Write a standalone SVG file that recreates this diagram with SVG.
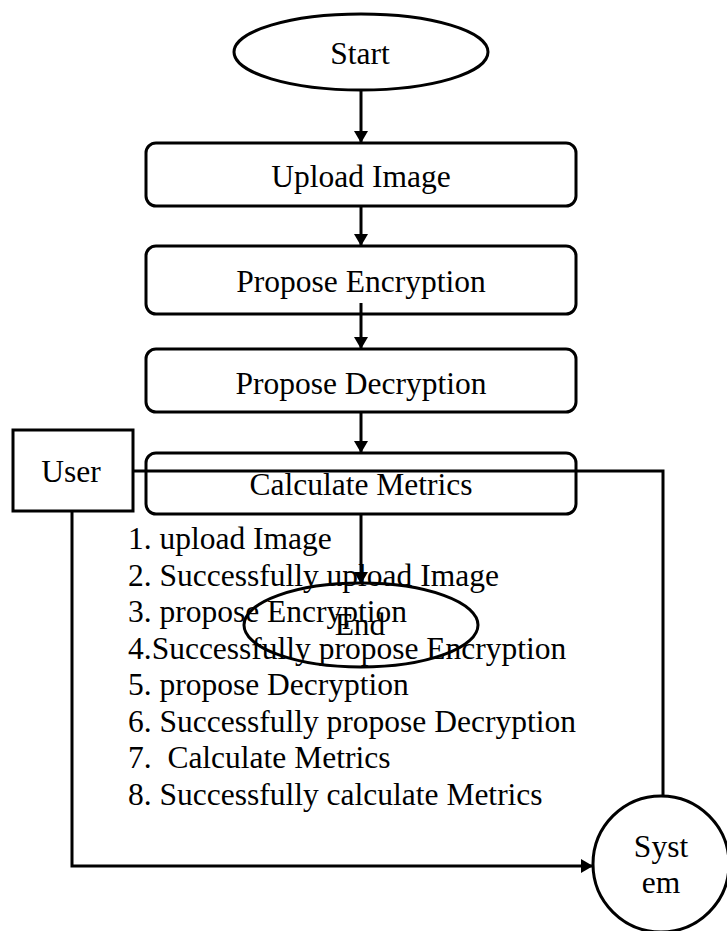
<svg xmlns="http://www.w3.org/2000/svg" width="727" height="931" viewBox="0 0 727 931">
<style>
.s{fill:none;stroke:#000;stroke-width:3}
.t{font-family:"Liberation Serif","Times New Roman",serif;font-size:31.5px;fill:#000}
.c{text-anchor:middle}
.p{white-space:pre}
</style>
<defs>
<marker id="ah" viewBox="0 0 12 14" refX="12" refY="7" markerWidth="12" markerHeight="14" markerUnits="userSpaceOnUse" orient="auto">
<path d="M0,0 L12,7 L0,14 z" fill="#000"/>
</marker>
</defs>
<rect width="727" height="931" fill="#fff"/>
<g id="start"><ellipse class="s" cx="361" cy="52" rx="127" ry="38"/><text class="t c" x="360" y="64">Start</text></g>
<g id="upload"><rect class="s" x="146" y="143" width="430" height="63" rx="10"/><text class="t c" x="361" y="187">Upload Image</text></g>
<g id="encrypt"><rect class="s" x="146" y="246" width="430" height="68" rx="10"/><text class="t c" x="361" y="292">Propose Encryption</text></g>
<g id="decrypt"><rect class="s" x="146" y="349" width="430" height="63" rx="10"/><text class="t c" x="361" y="394">Propose Decryption</text></g>
<g id="metrics"><rect class="s" x="146" y="453" width="430" height="61" rx="10"/><text class="t c" x="361" y="495">Calculate Metrics</text></g>
<g id="end"><ellipse class="s" cx="361" cy="625" rx="117" ry="42"/><text class="t c" x="360" y="635">End</text></g>
<g id="user"><rect class="s" x="13" y="430" width="120" height="81"/><text class="t c" x="71" y="482">User</text></g>
<g id="system"><circle class="s" cx="661" cy="864" r="68"/><text class="t c" x="661" y="857">Syst</text><text class="t c" x="661" y="893">em</text></g>
<g id="connectors">
<line class="s" x1="361" y1="90" x2="361" y2="143" marker-end="url(#ah)"/>
<line class="s" x1="361" y1="206" x2="361" y2="246" marker-end="url(#ah)"/>
<line class="s" x1="361" y1="303" x2="361" y2="349" marker-end="url(#ah)"/>
<line class="s" x1="361" y1="412" x2="361" y2="453" marker-end="url(#ah)"/>
<line class="s" x1="361" y1="514" x2="361" y2="584" marker-end="url(#ah)"/>
<polyline class="s" points="133,471 663,471 663,796"/>
<polyline class="s" points="72,511 72,866 593,866" marker-end="url(#ah)"/>
</g>
<g id="steps" class="t p">
<text x="128" y="549">1. upload Image</text>
<text x="128" y="585.5">2. Successfully upload Image</text>
<text x="128" y="622">3. propose Encryption</text>
<text x="128" y="658.5">4.Successfully propose Encryption</text>
<text x="128" y="695">5. propose Decryption</text>
<text x="128" y="731.5">6. Successfully propose Decryption</text>
<text x="128" y="768" xml:space="preserve">7.  Calculate Metrics</text>
<text x="128" y="805">8. Successfully calculate Metrics</text>
</g>
</svg>
